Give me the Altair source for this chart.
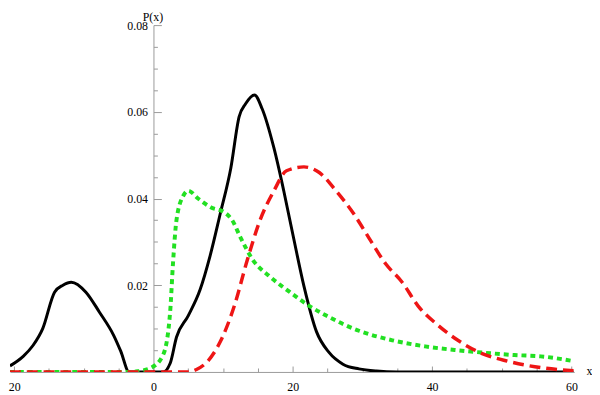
import altair as alt
import pandas as pd

# ---- data ----
black_x = [-20.6, -18.7, -17.3, -15.9, -14.2, -13.0, -11.8, -9.7, -7.8, -5.7, -4.7, -3.5,
           1.4, 2.4, 3.3, 5.0, 6.7, 8.1, 9.6, 11.1, 12.3, 13.2, 14.5, 15.6, 17.3, 18.7,
           20.1, 21.6, 23.4, 25.2, 27.2, 29.5, 32.0, 35.0, 60.3]
black_y = [0.0014, 0.0036, 0.0061, 0.0100, 0.0184, 0.0200, 0.0207, 0.0184, 0.0139, 0.0084, 0.0048, 0.0,
           0.0, 0.0020, 0.0080, 0.0130, 0.0190, 0.0266, 0.0366, 0.0470, 0.0589, 0.0618, 0.0639, 0.0607,
           0.0516, 0.0418, 0.0310, 0.0198, 0.0093, 0.0045, 0.0018, 0.0007, 0.0002, 0.0, 0.0]

green_x = [-20.6, -3.0, -2.1, -0.3, 1.4, 2.4, 2.8, 3.3, 4.3, 5.0, 6.4, 8.2, 10.2, 11.3, 12.5,
           14.2, 16.7, 19.6, 22.4, 24.8, 29.5, 34.3, 39.0, 43.7, 48.5, 51.8, 55.6, 60.3]
green_y = [0.0, 0.0, 0.0002, 0.0010, 0.0040, 0.0140, 0.0250, 0.0350, 0.0407, 0.0418, 0.0400,
           0.0380, 0.0368, 0.0350, 0.0310, 0.0260, 0.0220, 0.0184, 0.0152, 0.0130, 0.0095,
           0.0073, 0.0059, 0.0050, 0.0043, 0.0039, 0.0036, 0.0025]

red_x = [-20.6, 5.0, 6.1, 7.8, 9.6, 11.6, 13.5, 15.3, 17.3, 19.1, 21.6, 23.8, 26.2, 28.7,
         30.9, 33.3, 35.7, 38.0, 40.9, 43.7, 47.1, 50.8, 55.6, 60.3]
red_y = [0.0, 0.0, 0.0005, 0.0025, 0.0070, 0.0152, 0.0260, 0.0350, 0.0418, 0.0464, 0.0473,
         0.0460, 0.0418, 0.0366, 0.0310, 0.0250, 0.0207, 0.0152, 0.0107, 0.0073, 0.0043,
         0.0025, 0.0010, 0.0003]

x_ticks = [-20, -15, -10, -5, 0, 5, 10, 15, 20, 25, 30, 35, 40, 45, 50, 55, 60]
y_ticks = [0.0, 0.005, 0.01, 0.015, 0.02, 0.025, 0.03, 0.035, 0.04, 0.045, 0.05, 0.055,
           0.06, 0.065, 0.07, 0.075, 0.08]

# ---- layout ----
W, H = 571, 351
XMIN, XMAX = -20.6, 60.4
YMIN, YMAX = 0.0, 0.08
FONT = "Liberation Serif"
AXIS_GRAY = "#999999"

x0_px = W * (0 - XMIN) / (XMAX - XMIN)

x_axis = alt.Axis(
    orient="top", offset=-H, values=x_ticks, grid=False,
    domainColor=AXIS_GRAY, domainWidth=1, tickColor=AXIS_GRAY, tickWidth=1,
    tickSize={"condition": {"test": "datum.value % 20 === 0", "value": 6}, "value": 4},
    labelExpr="datum.value % 20 === 0 ? toString(abs(datum.value)) : ''",
    labelBaseline="alphabetic", labelPadding=-25, labelFont=FONT, labelFontSize=12,
    labelColor="black", labelFlush=False, labelOverlap=False,
    title="x", titleFont=FONT, titleFontSize=12, titleFontWeight="normal",
    titleColor="black", titleX=W + 15, titleY=3, titleAlign="center",
    titleBaseline="alphabetic", titleAngle=0,
)

y_axis = alt.Axis(
    orient="right", offset=x0_px - W, values=y_ticks, grid=False,
    domainColor=AXIS_GRAY, domainWidth=1, tickColor=AXIS_GRAY, tickWidth=1,
    tickSize={"condition": {"test": "round(datum.value*1000) % 20 === 0", "value": 8}, "value": 4},
    labelExpr="(round(datum.value*1000) % 20 === 0 && datum.value > 0) ? format(datum.value, '.2f') : ''",
    labelAlign="right", labelBaseline="middle", labelPadding=-14, labelFont=FONT,
    labelFontSize=12, labelColor="black", labelFlush=False, labelOverlap=False,
    title="P(x)", titleFont=FONT, titleFontSize=12, titleFontWeight="normal",
    titleColor="black", titleX=-1, titleY=-5, titleAlign="center",
    titleBaseline="alphabetic", titleAngle=0,
)

xs = alt.Scale(domain=[XMIN, XMAX], nice=False, zero=False)
ys = alt.Scale(domain=[YMIN, YMAX], nice=False, zero=False)


def series(xv, yv, color, width, dash):
    df = pd.DataFrame({"x": xv, "y": yv})
    mark_kw = dict(color=color, strokeWidth=width, interpolate="monotone", clip=True,
                   strokeCap="butt")
    if dash:
        mark_kw["strokeDash"] = dash
    return alt.Chart(df).mark_line(**mark_kw).encode(
        x=alt.X("x:Q", scale=xs, axis=x_axis),
        y=alt.Y("y:Q", scale=ys, axis=y_axis),
    )


black = series(black_x, black_y, "black", 3, None)
green = series(green_x, green_y, "#22e022", 4, [5, 4])
red = series(red_x, red_y, "#ee1515", 3.5, [11, 6])

chart = alt.layer(black, green, red).properties(
    width=W, height=H,
    autosize=alt.AutoSizeParams(type="none"),
    padding={"left": 2, "top": 15, "right": 18, "bottom": 21},
).configure_view(stroke=None)

chart.save("out.html", embed_options={"renderer": "svg", "actions": False})
